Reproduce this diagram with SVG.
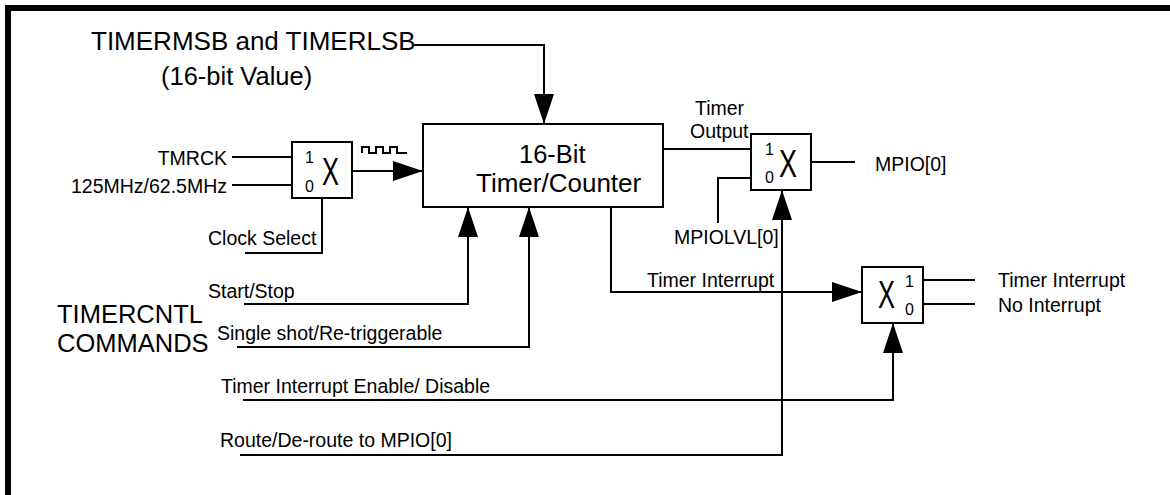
<svg xmlns="http://www.w3.org/2000/svg" width="1170" height="495" viewBox="0 0 1170 495">
<style>
text{font-family:"Liberation Sans",Arial,sans-serif;fill:#000}
.s{font-size:19.5px}
.b{font-size:25.5px}
.t{font-size:26px}
.d{font-size:16px}
.x{font-size:38px}
.box{fill:#fff;stroke:#000;stroke-width:2}
.w{fill:none;stroke:#000;stroke-width:2}
</style>
<defs>
<marker id="ah" viewBox="0 0 30 20" markerWidth="30" markerHeight="20" refX="30" refY="10" orient="auto" markerUnits="userSpaceOnUse">
<path d="M0,0 L30,10 L0,20 z" fill="#000"/>
</marker>
</defs>
<rect width="1170" height="495" fill="#fff"/>
<g id="frame">
<rect x="5" y="5" width="1165" height="6" fill="#000"/>
<rect x="5" y="5" width="6" height="490" fill="#000"/>
</g>
<g id="labels">
<text class="t" x="91" y="50">TIMERMSB and TIMERLSB</text>
<text class="b" x="161" y="85">(16-bit Value)</text>
<text class="b" x="57" y="323">TIMERCNTL</text>
<text class="b" x="57" y="352">COMMANDS</text>
<text class="s" x="227" y="165" text-anchor="end">TMRCK</text>
<text class="s" x="227" y="193" text-anchor="end">125MHz/62.5MHz</text>
<text class="s" x="208" y="245">Clock Select</text>
<text class="s" x="208" y="298">Start/Stop</text>
<text class="s" x="217" y="340">Single shot/Re-triggerable</text>
<text class="s" x="221" y="393">Timer Interrupt Enable/ Disable</text>
<text class="s" x="220" y="447">Route/De-route to MPIO[0]</text>
<text class="s" x="695" y="115">Timer</text>
<text class="s" x="690" y="138">Output</text>
<text class="s" x="875" y="171">MPIO[0]</text>
<text class="s" x="674" y="244">MPIOLVL[0]</text>
<text class="s" x="647" y="287">Timer Interrupt</text>
<text class="s" x="998" y="287">Timer Interrupt</text>
<text class="s" x="998" y="312">No Interrupt</text>
</g>
<g id="connectors">
<path class="w" d="M413,45 H544 V124" marker-end="url(#ah)"/>
<path class="w" d="M232,157 H292"/>
<path class="w" d="M232,185 H292"/>
<path class="w" d="M245,253 H322 V198"/>
<path class="w" d="M352,171 H423" marker-end="url(#ah)"/>
<path class="w" d="M362,153 V147 H369 V153 H376 V147 H383 V153 H390 V147 H397 V153 H407"/>
<path class="w" d="M244,304 H468 V207" marker-end="url(#ah)"/>
<path class="w" d="M237,347 H529 V207" marker-end="url(#ah)"/>
<path class="w" d="M663,149 H751"/>
<path class="w" d="M751,178 H718 V223"/>
<path class="w" d="M811,162 H855"/>
<path class="w" d="M240,455 H782 V190" marker-end="url(#ah)"/>
<path class="w" d="M611,207 V292 H862" marker-end="url(#ah)"/>
<path class="w" d="M243,400 H893 V323" marker-end="url(#ah)"/>
<path class="w" d="M923,280 H975"/>
<path class="w" d="M923,304 H975"/>
</g>
<g id="timer-counter">
<rect class="box" x="423" y="124" width="240" height="83"/>
<text class="b" x="519" y="163">16-Bit</text>
<text class="t" x="476" y="192">Timer/Counter</text>
</g>
<g id="clock-mux">
<rect class="box" x="292" y="142" width="60" height="56"/>
<text class="d" x="305" y="163">1</text>
<text class="d" x="305" y="192">0</text>
<text class="x" x="322" y="185" textLength="17" lengthAdjust="spacingAndGlyphs">X</text>
</g>
<g id="output-mux">
<rect class="box" x="751" y="134" width="60" height="56"/>
<text class="d" x="765" y="155">1</text>
<text class="d" x="765" y="183">0</text>
<text class="x" x="779" y="177" textLength="18" lengthAdjust="spacingAndGlyphs">X</text>
</g>
<g id="interrupt-mux">
<rect class="box" x="862" y="267" width="61" height="56"/>
<text class="x" x="878" y="308" textLength="17" lengthAdjust="spacingAndGlyphs">X</text>
<text class="d" x="905" y="287">1</text>
<text class="d" x="905" y="315">0</text>
</g>
</svg>
